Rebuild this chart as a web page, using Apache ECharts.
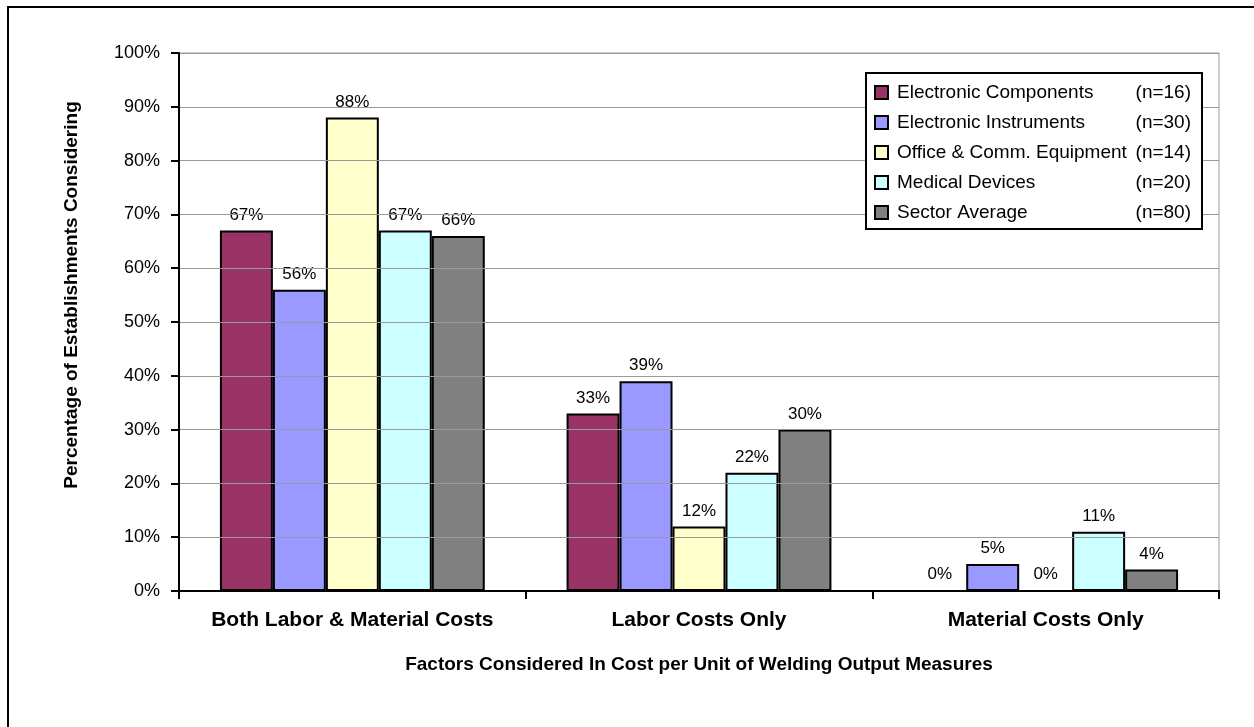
<!DOCTYPE html>
<html>
<head>
<meta charset="utf-8">
<script src="https://cdn.jsdelivr.net/npm/echarts@6/dist/echarts.min.js"></script>
<style>
html,body{margin:0;padding:0;background:#fff;}
#chart{width:1254px;height:727px;}
</style>
</head>
<body>
<div id="chart"></div>
<script>
// categories and values (percent)
var categories = ['Both Labor & Material Costs', 'Labor Costs Only', 'Material Costs Only'];
var seriesNames = ['Electronic Components', 'Electronic Instruments', 'Office & Comm. Equipment', 'Medical Devices', 'Sector Average'];
var sampleSizes = ['(n=16)', '(n=30)', '(n=14)', '(n=20)', '(n=80)'];
var seriesColors = ['#993366', '#9999FF', '#FFFFCC', '#CCFFFF', '#808080'];
var elecComponents = [67, 33, 0];
var elecInstruments = [56, 39, 5];
var officeComm = [88, 12, 0];
var medicalDevices = [67, 22, 11];
var sectorAverage = [66, 30, 4];
var yTicks = [0, 10, 20, 30, 40, 50, 60, 70, 80, 90, 100];

var font = 'Liberation Sans, Arial, sans-serif';
var allValues = [elecComponents, elecInstruments, officeComm, medicalDevices, sectorAverage];

var myChart = echarts.init(document.getElementById('chart'));

var series = [];
for (var i = 0; i < seriesNames.length; i++) {
	series.push({
		name: seriesNames[i],
		type: 'bar',
		data: allValues[i],
		barGap: '0%',
		barCategoryGap: '23.6%',
		itemStyle: {
			color: seriesColors[i],
			borderColor: '#000',
			borderWidth: 2
		},
		label: {
			show: true,
			position: 'top',
			distance: 7,
			formatter: '{c}%',
			fontFamily: font,
			fontSize: 17,
			color: '#000'
		}
	});
}

var option = {
	animation: false,
	backgroundColor: '#fff',
	textStyle: { fontFamily: font },
	graphic: [{
		type: 'rect',
		shape: { x: 8, y: 7, width: 1260, height: 740 },
		style: { fill: 'none', stroke: '#000', lineWidth: 2 },
		z: -1
	}, {
		// y axis title, placed like the original (a bit above the plot centre)
		type: 'text',
		x: 72,
		y: 295,
		rotation: Math.PI / 2,
		style: {
			text: 'Percentage of Establishments Considering',
			font: 'bold 19px Liberation Sans, Arial, sans-serif',
			fill: '#000',
			align: 'center',
			verticalAlign: 'middle'
		}
	}],
	grid: {
		left: 179,
		right: 35,
		top: 53,
		bottom: 136,
		show: true,
		borderColor: '#999',
		borderWidth: 1
	},
	legend: {
		orient: 'vertical',
		left: 866,
		top: 73,
		z: 20,
		itemWidth: 13,
		itemHeight: 13,
		itemGap: 11,
		padding: [10, 11, 7, 8],
		borderColor: '#000',
		borderWidth: 2,
		backgroundColor: '#fff',
		icon: 'rect',
		itemStyle: { borderColor: '#000', borderWidth: 2 },
		data: seriesNames,
		formatter: function (name) {
			var idx = seriesNames.indexOf(name);
			return '{a|' + name + '}{b|' + sampleSizes[idx] + '}';
		},
		textStyle: {
			fontFamily: font,
			fontSize: 19,
			color: '#000',
			rich: {
				a: { width: 236, padding: [0, 0, 0, 4], fontSize: 19, fontFamily: font, color: '#000' },
				b: { width: 58, align: 'right', fontSize: 19, fontFamily: font, color: '#000' }
			}
		}
	},
	xAxis: {
		type: 'category',
		data: categories,
		name: 'Factors Considered In Cost per Unit of Welding Output Measures',
		nameLocation: 'middle',
		nameGap: 64,
		nameTextStyle: { fontFamily: font, fontSize: 19, fontWeight: 'bold', color: '#000' },
		axisLine: { lineStyle: { color: '#000', width: 2 } },
		axisTick: { show: true, interval: 0, length: 8, lineStyle: { color: '#000', width: 2 } },
		axisLabel: { interval: 0, fontFamily: font, fontSize: 21, fontWeight: 'bold', color: '#000', margin: 19 },
		z: 5
	},
	yAxis: {
		type: 'value',
		min: yTicks[0],
		max: yTicks[yTicks.length - 1],
		interval: 10,
		axisLine: { show: true, lineStyle: { color: '#000', width: 2 } },
		axisTick: { show: true, length: 8, lineStyle: { color: '#000', width: 2 } },
		axisLabel: { fontFamily: font, fontSize: 18, color: '#000', margin: 19, formatter: '{value}%' },
		splitLine: { show: true, lineStyle: { color: '#999', width: 1 } },
		z: 5
	},
	series: series
};
myChart.setOption(option);
</script>
</body>
</html>
